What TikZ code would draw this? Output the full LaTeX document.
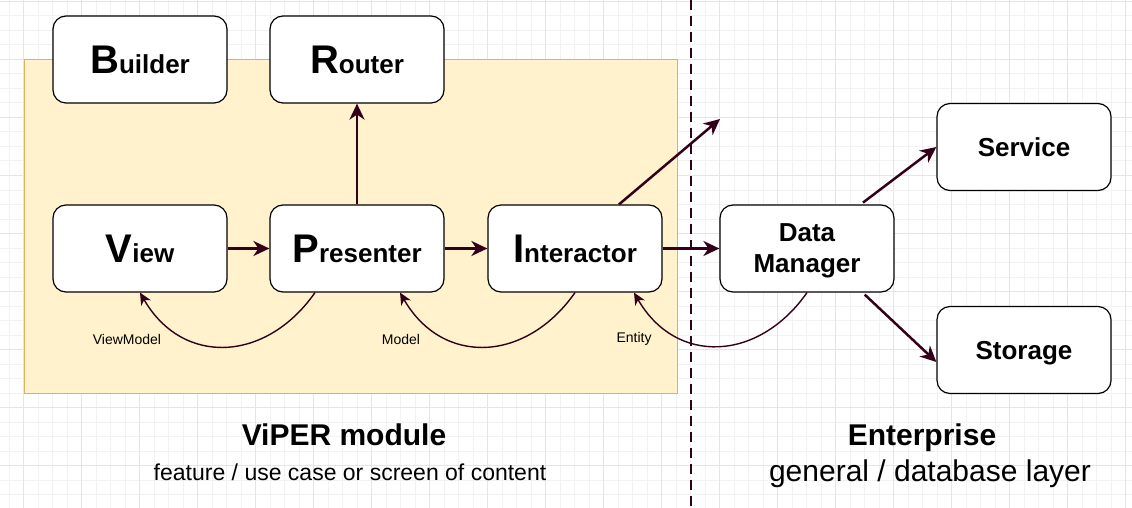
\documentclass[tikz,border=0pt]{standalone}
\usepackage{fontspec}
\setmainfont{Liberation Sans}
\usetikzlibrary{positioning, arrows.meta}
\definecolor{linkred}{RGB}{51,0,26}
\definecolor{modfill}{HTML}{FFF2CC}
\definecolor{moddraw}{HTML}{D6B656}
\newcommand\bigletter[2]{{\fontsize{40}{40}\selectfont #1}#2}
\tikzset{
	x=1pt, y=1pt,
	part/.style={draw, fill=white, line width=1.2pt, rounded corners=13pt,
		minimum width=174pt, minimum height=87pt, inner sep=0pt,
		align=center, text depth=0pt, font=\bfseries\fontsize{26}{31}\selectfont},
	flow/.style={-{Stealth[length=16pt, width=15pt, inset=5pt]}, draw=linkred, line width=2.5pt},
	back/.style={-{Stealth[length=12pt, width=11pt, inset=3.5pt]}, draw=linkred, line width=1.4pt},
	tag/.style={font=\fontsize{14}{16}\selectfont},
	title/.style={text depth=0pt, font=\bfseries\fontsize{30}{34}\selectfont},
	subtitle/.style={text depth=0pt, font=\fontsize{30}{34}\selectfont},
	gridminor/.style={draw=black!5, line width=0.6pt, step=14.5pt},
	gridmajor/.style={draw=black!10, line width=0.8pt, step=58pt},
	cutline/.style={draw=linkred, line width=2.5pt, dash pattern=on 10pt off 6pt}
}

\begin{document}
\begin{tikzpicture}
	\useasboundingbox (0,0) rectangle (1132,507);

	% background grid
	\begin{scope}
		\clip (0,0) rectangle (1132,507);
		\draw[gridminor, shift={(-34.7,-16.3)}] (0,0) grid (1220,580);
		\draw[gridmajor, shift={(-34.7,-16.3)}] (0,0) grid (1220,580);
	\end{scope}

	% module area and layer border
	\draw[fill=modfill, draw=moddraw, line width=1pt] (24,114) rectangle (677,447);
	\coordinate (cuttop) at (691,507);
	\coordinate (cutbot) at (691,0);
	\draw[cutline] (cuttop) -- (cutbot);

	\node[part] (view) at (140,258.5) {\bigletter{V}{iew}};
	\node[part, right=41.8pt of view] (pres) {\bigletter{P}{resenter}};
	\node[part, right=42.8pt of pres] (inter) {\bigletter{I}{nteractor}};
	\node[part, right=56.8pt of inter] (data) {Data\\Manager};
	\node[part, above=100.8pt of view] (builder) {\bigletter{B}{uilder}};
	\node[part, above=100.8pt of pres] (router) {\bigletter{R}{outer}};
	\node[part] (service) at (1024,360) {Service};
	\node[part] (storage) at (1024,157) {Storage};
	\coordinate (outlink) at (720,388);

	\node[tag] (vmtag) at (127,168) {ViewModel};
	\node[tag] (mtag) at (401,168) {Model};
	\node[tag] (etag) at (634,168) {Entity};

	\node[title] (viper) at (344,72) {ViPER module};
	\node[subtitle, font=\fontsize{23}{27}\selectfont] (viperdesc) at (350,35) {feature / use case or screen of content};
	\node[title] (ent) at (922,72) {Enterprise};
	\node[subtitle] (entdesc) at (930,36) {general / database layer};

	\draw[flow] (view) -- (pres);
	\draw[flow] (pres) -- (router);
	\draw[flow] (pres) -- (inter);
	\draw[flow] (inter) -- (data);
	\draw[flow] ([xshift=44pt]inter.north) -- (outlink);
	\draw[flow, shorten <=3pt] ([xshift=-34pt]data.north east) -- (service.west);
	\draw[flow, shorten <=3pt] ([xshift=-32pt]data.south east) -- ([yshift=-12pt]storage.west);

	\draw[back] ([xshift=-42pt]pres.south) to[out=-125, in=-60, looseness=1.25] (view.south);
	\draw[back] (inter.south) to[out=-125, in=-60, looseness=1.25] ([xshift=43pt]pres.south);
	\draw[back] (data.south) to[out=-125, in=-60, looseness=1.25] ([xshift=59pt]inter.south);

\end{tikzpicture}
\end{document}
